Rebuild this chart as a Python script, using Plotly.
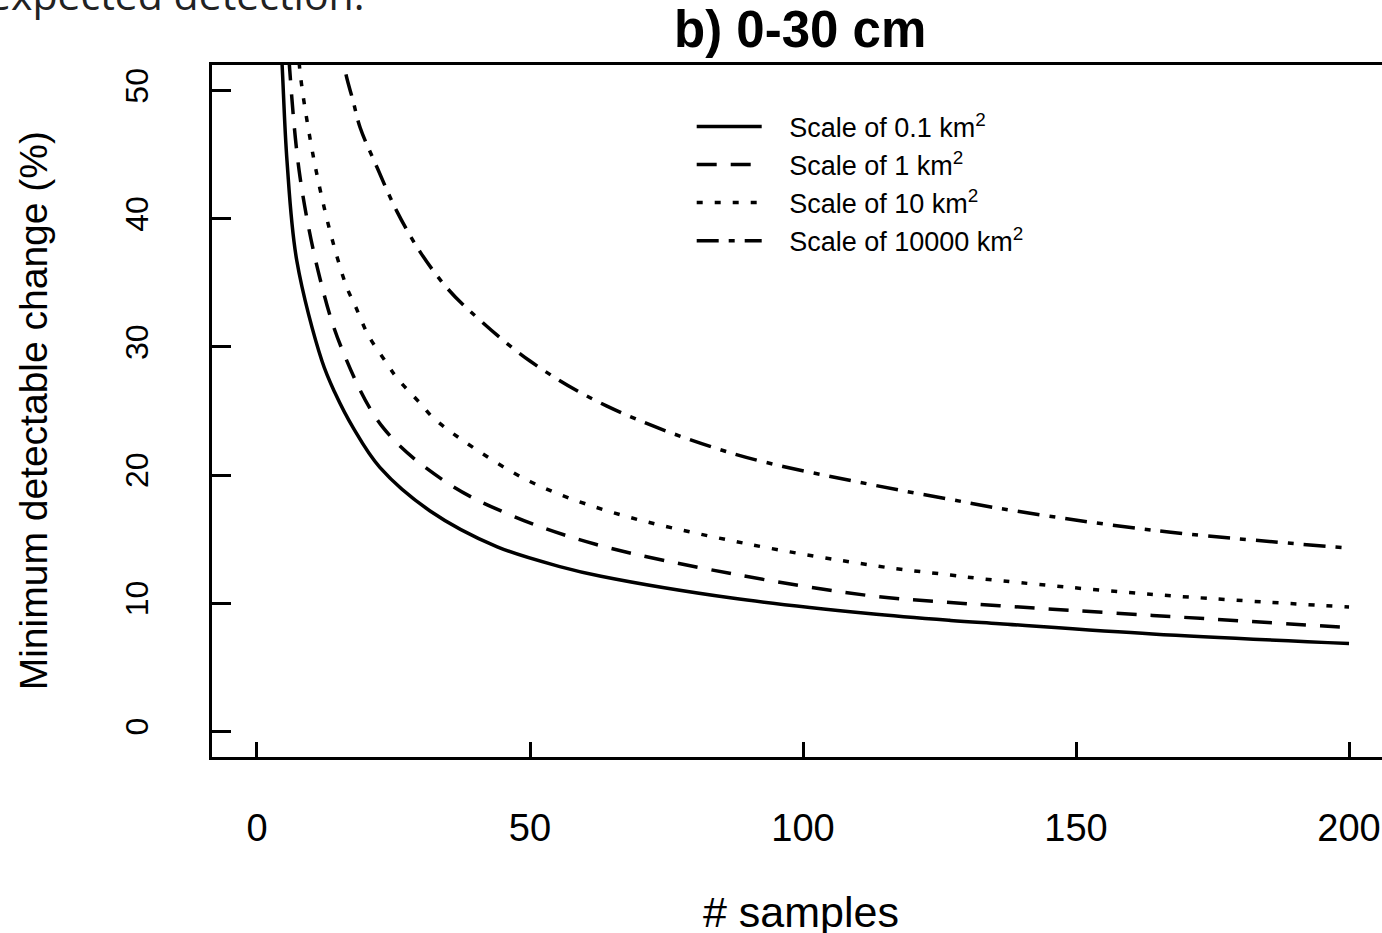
import plotly.graph_objects as go

# ---- data ----
x_scale_01 = [4.2, 4.6, 5.5, 7.3, 11.9, 14.3, 17.6, 22.5, 31.7, 44, 56, 63, 87, 112, 127, 136, 164, 200]
y_scale_01 = [55, 52, 44.5, 36.7, 28.9, 26.4, 23.7, 20.6, 17.2, 14.4, 12.8, 12.1, 10.4, 9.2, 8.66, 8.4, 7.6, 6.86]

x_scale_1 = [5.6, 6.0, 7.9, 11.5, 15.5, 23.1, 34.8, 46.9, 62, 87, 112, 127, 136, 164, 200]
y_scale_1 = [55, 51.6, 43.2, 35.4, 29.9, 23.7, 19.4, 16.8, 14.6, 12.3, 10.6, 10.06, 9.8, 9.05, 8.1]

x_scale_10 = [7.3, 7.9, 9.7, 11.5, 13.7, 16.4, 18, 20.4, 23.8, 25.6, 29.9, 32.2, 37.7, 50, 65, 89, 113.6, 127, 134, 163.6, 200]
y_scale_10 = [55, 51.4, 46.3, 42.4, 38.5, 34.7, 33.2, 30.9, 28.7, 27.6, 25.6, 24.5, 22.7, 19.5, 17.1, 14.7, 12.9, 12.2, 11.85, 10.7, 9.7]

x_scale_10000 = [15.5, 16.1, 17.6, 18.9, 22, 25.6, 29.9, 34.8, 39, 50, 64, 87, 112, 127, 136, 164, 200]
y_scale_10000 = [55, 51.7, 49.2, 47.1, 44.0, 40.6, 37.4, 34.6, 32.8, 28.9, 25.4, 21.7, 19.3, 18.1, 17.4, 15.7, 14.3]

series_names = ["Scale of 0.1 km<sup>2</sup>", "Scale of 1 km<sup>2</sup>",
                "Scale of 10 km<sup>2</sup>", "Scale of 10000 km<sup>2</sup>"]
x_ticks = [0, 50, 100, 150, 200]
y_ticks = [0, 10, 20, 30, 40, 50]

dashes = ["solid", "20px,14px", "6px,12px", "22px,10px,6px,10px"]
FONT = "Liberation Sans, Arial, sans-serif"
GAP = "\u00a0\u00a0\u00a0"

fig = go.Figure()
for xs, ys, name, dash in zip([x_scale_01, x_scale_1, x_scale_10, x_scale_10000],
                              [y_scale_01, y_scale_1, y_scale_10, y_scale_10000],
                              series_names, dashes):
    fig.add_trace(go.Scatter(x=xs, y=ys, mode="lines", name=GAP + name,
                             line=dict(color="black", width=3.5, dash=dash,
                                       shape="spline", smoothing=1.0)))

fig.update_layout(
    width=1382, height=933,
    margin=dict(l=212, r=0, t=65, b=176, autoexpand=False),
    paper_bgcolor="white", plot_bgcolor="white",
    font=dict(family=FONT, color="black"),
    showlegend=True,
    legend=dict(x=0.41, y=0.946, xanchor="left", yanchor="top",
                bgcolor="rgba(0,0,0,0)", font=dict(size=27, family=FONT),
                itemwidth=65, tracegroupgap=0),
    xaxis=dict(range=[-8.24, 206.04], tickvals=x_ticks, ticks="inside", ticklen=15,
               tickwidth=3, tickcolor="black", showline=True, linecolor="black",
               linewidth=3, mirror=True, showgrid=False, zeroline=False, automargin=False,
               tickfont=dict(size=38, family=FONT), ticklabelstandoff=35),
    yaxis=dict(range=[-2, 52], tickvals=y_ticks, ticks="inside", ticklen=19,
               tickwidth=3, tickcolor="black", showline=True, linecolor="black",
               linewidth=3, showgrid=False, zeroline=False, tickangle=-90, automargin=False,
               tickfont=dict(size=32, family=FONT), ticklabelstandoff=48),
    annotations=[
        dict(text="<b>b) 0-30 cm</b>", xref="paper", yref="paper", x=0.5026, y=1.0506,
             xanchor="center", yanchor="middle", showarrow=False,
             font=dict(size=51, family=FONT)),
        dict(text="# samples", xref="paper", yref="paper", x=0.5034, y=-0.224,
             xanchor="center", yanchor="middle", showarrow=False,
             font=dict(size=43, family=FONT)),
        dict(text="Minimum detectable change (%)", xref="paper", yref="paper",
             x=-0.153, y=0.501, xanchor="center", yanchor="middle", textangle=-90,
             showarrow=False, font=dict(size=39, family=FONT)),
        dict(text="expected detection.", xref="paper", yref="paper", x=-0.193, y=1.0592,
             xanchor="left", yanchor="bottom", showarrow=False,
             font=dict(size=41, family="Open Sans, sans-serif", color="#222222")),
    ],
)

fig.write_html("out.html", config={"displayModeBar": False},
               post_script="document.body.style.margin='0px';")
